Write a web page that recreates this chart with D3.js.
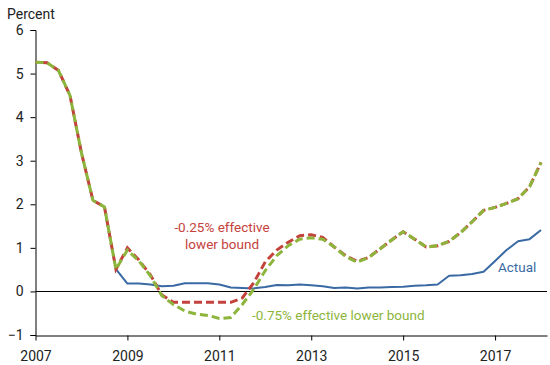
<!DOCTYPE html>
<html>
<head>
<meta charset="utf-8">
<script src="https://cdn.jsdelivr.net/npm/d3@7"></script>
<style>
  body { margin: 0; background: #fff; }
  svg { display: block; font-family: Roboto, "Liberation Sans", sans-serif; }
</style>
</head>
<body>
<svg id="chart" width="550" height="365"></svg>
<script>
// Quarterly observations, 2007:Q1 – 2018:Q1
const quarters = d3.range(45).map(i => 2007 + i / 4);

const actual = [5.26,5.25,5.07,4.50, 3.18,2.09,1.94,0.51, 0.18,0.18,0.16,0.12,
  0.13,0.19,0.19,0.19, 0.16,0.09,0.08,0.07, 0.10,0.15,0.14,0.16,
  0.14,0.12,0.08,0.09, 0.07,0.09,0.09,0.10, 0.11,0.13,0.14,0.16,
  0.36,0.37,0.40,0.45, 0.70,0.95,1.15,1.20, 1.41];

const elb025 = [5.26,5.25,5.07,4.50, 3.18,2.09,1.94,0.51, 1.00,0.72,0.38,-0.08,
  -0.25,-0.25,-0.25,-0.25, -0.25,-0.25,-0.15,0.20, 0.68,0.95,1.13,1.28,
  1.30,1.24,1.02,0.82, 0.69,0.78,0.98,1.18, 1.37,1.20,1.02,1.05,
  1.15,1.35,1.60,1.86, 1.93,2.02,2.13,2.40, 2.96];

const elb075 = [5.26,5.25,5.07,4.50, 3.18,2.09,1.94,0.51, 0.95,0.70,0.36,-0.10,
  -0.30,-0.45,-0.52,-0.55, -0.62,-0.60,-0.30,0.05, 0.48,0.82,1.05,1.20,
  1.23,1.20,1.02,0.80, 0.67,0.78,0.98,1.18, 1.37,1.20,1.02,1.05,
  1.15,1.35,1.60,1.86, 1.93,2.02,2.13,2.40, 2.96];

const xTicks = [2007, 2009, 2011, 2013, 2015, 2017];
const yTicks = [-1, 0, 1, 2, 3, 4, 5, 6];

const blue = "#3a6aa3", red = "#c4423c", green = "#8db53c";

const svg = d3.select("#chart");
const x = d3.scaleLinear().domain([2007, 2018.13]).range([35.5, 547]);
const y = d3.scaleLinear().domain([-1, 6]).range([335, 30]);

// Axes
const yAxis = svg.append("g").attr("transform", "translate(35.5,0)")
  .call(d3.axisLeft(y).tickValues(yTicks).tickFormat(d3.format("d")).tickSize(5).tickPadding(7));
const xAxis = svg.append("g").attr("transform", "translate(0,335.5)")
  .call(d3.axisBottom(x).tickValues(xTicks).tickFormat(d3.format("d")).tickSize(5).tickSizeOuter(0).tickPadding(11));
[yAxis, xAxis].forEach(g => {
  g.selectAll("path, line").attr("stroke", "#000").attr("stroke-width", 1);
  g.selectAll("text").attr("fill", "#222").style("font-size", "14px").style("font-family", "Roboto");
});

// Zero line
svg.append("line")
  .attr("x1", x(2007)).attr("x2", x(2018.13))
  .attr("y1", Math.round(y(0)) + 0.5).attr("y2", Math.round(y(0)) + 0.5)
  .attr("stroke", "#000").attr("stroke-width", 1);

svg.append("text").attr("x", 7).attr("y", 19)
  .attr("fill", "#222").style("font-size", "14px").text("Percent");

const line = vals => d3.line().x((d, i) => x(quarters[i])).y(d => y(d))(vals);

svg.append("path").attr("d", line(actual))
  .attr("fill", "none").attr("stroke", blue).attr("stroke-width", 2)
  .attr("stroke-linejoin", "round");
svg.append("path").attr("d", line(elb025))
  .attr("fill", "none").attr("stroke", red).attr("stroke-width", 3)
  .attr("stroke-dasharray", "8,4").attr("stroke-dashoffset", 6);
svg.append("path").attr("d", line(elb075))
  .attr("fill", "none").attr("stroke", green).attr("stroke-width", 3)
  .attr("stroke-dasharray", "8,4");

// Labels
const lab = svg.append("g").style("font-size", "13.5px");
lab.append("text").attr("x", 222).attr("y", 232).attr("text-anchor", "middle")
  .attr("fill", red).text("-0.25% effective");
lab.append("text").attr("x", 222).attr("y", 249).attr("text-anchor", "middle")
  .attr("fill", red).text("lower bound");
lab.append("text").attr("x", 252).attr("y", 320)
  .attr("fill", green).text("-0.75% effective lower bound");
lab.append("text").attr("x", 498).attr("y", 272)
  .attr("fill", blue).text("Actual");
</script>
</body>
</html>
